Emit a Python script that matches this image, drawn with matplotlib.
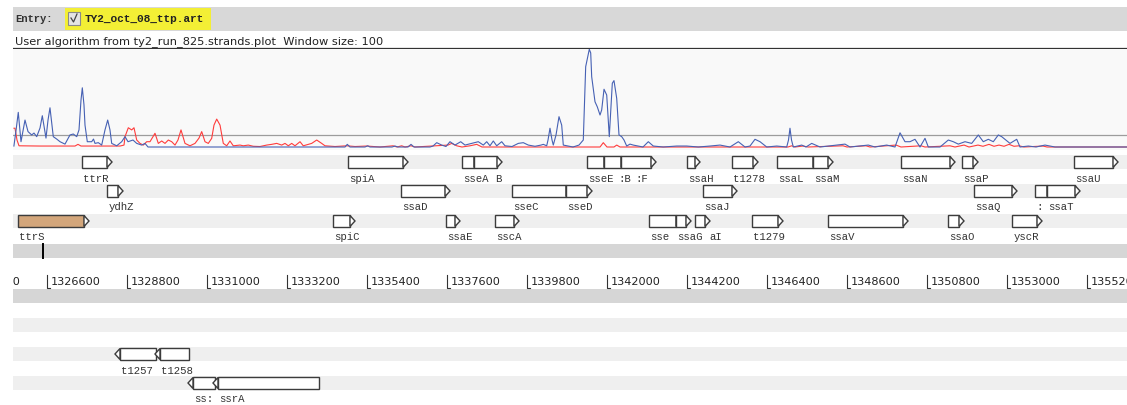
import matplotlib
matplotlib.use('Agg')
import matplotlib.pyplot as plt
from matplotlib.patches import Rectangle, Polygon

# visible genome window (bp) and scale ticks
view_start = 1325665
view_end = 1356300
tick_first = 1324400
tick_step = 2200
cursor_pos = 1326490

entry_name = "TY2_oct_08_ttp.art"
graph_title = "User algorithm from ty2_run_825.strands.plot  Window size: 100"
graph_max = 40.73
graph_cut = 4.96

# graph curves (position bp, value)
blue_pos = [1325690, 1325750, 1325810, 1325885, 1325995, 1326078, 1326179, 1326242, 1326317,
            1326408, 1326471, 1326572, 1326628, 1326682, 1326738, 1326773, 1326867, 1326958,
            1327095, 1327232, 1327323, 1327417, 1327480, 1327535, 1327571, 1327617, 1327645,
            1327708, 1327829, 1327879, 1327920, 1328011, 1328104, 1328195, 1328269, 1328332,
            1328379, 1328517, 1328654, 1328745, 1328828, 1328965, 1329067, 1329204, 1329295,
            1329378, 1333558, 1334795, 1334858, 1334932, 1335345, 1335419, 1335482, 1336088,
            1336170, 1336252, 1336528, 1336610, 1336692, 1337132, 1337215, 1337317, 1337454,
            1337572, 1337682, 1337820, 1337977, 1338095, 1338279, 1338461, 1338598, 1338692,
            1338782, 1338873, 1338967, 1339104, 1339195, 1339388, 1339561, 1339698, 1339836,
            1340020, 1340185, 1340248, 1340342, 1340378, 1340432, 1340488, 1340523, 1340598,
            1340680, 1340754, 1340798, 1340928, 1341065, 1341230, 1341348, 1341414, 1341513,
            1341552, 1341579, 1341670, 1341733, 1341808, 1341854, 1341918, 1341992, 1342063,
            1342146, 1342192, 1342267, 1342330, 1342404, 1342468, 1342542, 1342632, 1342723,
            1342861, 1342990, 1343136, 1343273, 1343548, 1343917, 1344192, 1344511, 1344832,
            1345108, 1345382, 1345611, 1345795, 1345932, 1346070, 1346208, 1346392, 1346667,
            1346942, 1346991, 1347032, 1347074, 1347123, 1347354, 1347472, 1347629, 1347858,
            1348545, 1348682, 1349186, 1349370, 1349692, 1349920, 1350058, 1350195, 1350332,
            1350470, 1350608, 1350745, 1350836, 1351158, 1351386, 1351523, 1351661, 1351845,
            1352029, 1352211, 1352348, 1352486, 1352623, 1352761, 1352854, 1352945, 1353082,
            1353267, 1353358, 1353586, 1353798, 1354045, 1354320, 1356300]
blue_val = [0.4, 7.1, 14.4, 2.2, 11.2, 6.4, 5.0, 5.8, 4.3,
            7.9, 13.0, 3.7, 11.2, 16.3, 9.1, 4.3, 3.3, 2.2,
            1.2, 5.0, 5.4, 4.3, 7.1, 19.5, 24.6, 17.5, 9.1,
            2.2, 2.2, 3.3, 1.5, 1.8, 0.8, 7.1, 11.2, 7.1,
            1.5, 0.5, 2.2, 4.3, 2.2, 2.9, 1.5, 0.8, 1.5,
            0.0, 0.0, 0.0, 1.1, 0.0, 0.0, 0.5, 0.0, 0.0,
            0.4, 0.0, 0.0, 1.1, 0.0, 0.0, 0.4, 1.8, 0.8,
            0.2, 2.2, 0.8, 2.2, 0.8, 1.5, 2.2, 0.8, 2.2,
            0.5, 2.5, 0.5, 2.2, 0.5, 0.2, 1.5, 1.8, 0.8,
            0.3, 0.8, 1.1, 0.5, 2.9, 7.8, 2.9, 0.8, 5.0,
            12.6, 9.1, 0.8, 0.4, 0.0, 0.8, 2.9, 33.4, 40.6,
            39.1, 29.2, 18.8, 16.7, 13.3, 15.4, 24.0, 21.6, 4.3,
            26.5, 27.6, 20.2, 5.0, 4.3, 2.9, 0.4, 1.2, 0.8,
            0.4, 0.0, 2.2, 0.4, 0.0, 0.4, 0.4, 0.0, 0.4,
            0.8, 0.0, 2.2, 0.0, 0.4, 3.2, 2.2, 0.0, 0.4,
            0.0, 2.9, 7.8, 2.9, 0.0, 0.8, 0.0, 1.5, 0.0,
            1.2, 0.0, 0.8, 0.0, 0.8, 0.0, 5.9, 2.2, 2.2,
            3.2, 0.0, 3.6, 0.0, 0.0, 2.9, 2.2, 1.2, 2.2,
            1.5, 5.0, 2.2, 3.2, 2.2, 5.0, 4.3, 3.2, 1.5,
            3.2, 0.0, 0.4, 0.0, 0.8, 0.0, 0.0]

red_pos = [1325692, 1325720, 1325775, 1325830, 1326408, 1327370, 1327452, 1327535, 1328608,
           1328718, 1328745, 1328836, 1328929, 1328992, 1329067, 1329158, 1329248, 1329342,
           1329432, 1329570, 1329661, 1329754, 1329845, 1329936, 1330029, 1330120, 1330202,
           1330285, 1330395, 1330532, 1330670, 1330780, 1330854, 1330945, 1331036, 1331129,
           1331192, 1331267, 1331358, 1331448, 1331542, 1331632, 1331723, 1331908, 1331998,
           1332136, 1332273, 1332458, 1332642, 1332779, 1332917, 1333054, 1333145, 1333236,
           1333329, 1333420, 1333558, 1333648, 1333879, 1334017, 1334154, 1334245, 1334520,
           1334842, 1335070, 1335392, 1335758, 1336115, 1336225, 1336354, 1336445, 1336610,
           1336720, 1337628, 1337729, 1337867, 1338012, 1338232, 1338417, 1338562, 1341808,
           1341898, 1342000, 1342192, 1342267, 1342358, 1346978, 1347079, 1347170, 1347390,
           1347528, 1348490, 1348600, 1349122, 1349232, 1349948, 1350085, 1350635, 1350745,
           1351432, 1351570, 1351818, 1351955, 1352202, 1352340, 1352505, 1352642, 1352780,
           1352918, 1353055, 1353192, 1353330, 1353468, 1353990, 1354100, 1356300]
red_val = [7.8, 7.8, 2.9, 0.5, 0.4, 0.4, 1.1, 0.4, 0.4,
           0.8, 4.3, 8.0, 7.1, 8.0, 2.9, 1.5, 0.8, 2.2,
           2.2, 5.7, 1.5, 2.5, 1.5, 2.9, 2.2, 0.8, 2.9,
           7.1, 1.5, 0.5, 1.5, 3.7, 6.4, 2.2, 1.5, 3.6,
           9.1, 11.6, 9.1, 1.5, 0.5, 2.5, 0.5, 0.8, 0.5,
           0.8, 0.3, 0.2, 0.8, 1.1, 1.5, 0.8, 1.5, 0.5,
           1.5, 0.5, 2.2, 0.5, 1.5, 2.9, 1.5, 0.5, 0.2,
           0.5, 0.2, 0.4, 0.0, 0.5, 0.0, 0.5, 0.0, 0.5,
           0.0, 0.8, 1.5, 0.5, 0.0, 0.5, 1.1, 0.0, 0.0,
           1.8, 0.0, 0.0, 0.8, 0.0, 0.0, 0.5, 0.0, 0.4,
           0.0, 0.5, 0.0, 0.5, 0.0, 0.8, 0.0, 0.5, 0.0,
           0.5, 0.0, 0.8, 0.0, 0.8, 0.3, 1.1, 0.3, 0.8,
           0.3, 1.1, 0.3, 0.5, 0.0, 0.4, 0.0, 0.0]

# features: label as shown on screen (leading spaces = hidden characters), start, end, track
gene_labels = ["ttrR", "spiA", "sseA", "   B", "sseE", "  :B", "  :F", "ssaH", "t1278",
               "ssaL", "ssaM", "ssaN", "ssaP", "ssaU",
               "ydhZ", "ssaD", "sseC", "sseD", "ssaJ", "ssaQ", ":", "ssaT",
               "ttrS", "spiC", "ssaE", "sscA", "sse", "ssaG", "  aI", "t1279", "ssaV",
               "ssaO", "yscR",
               "t1257", "t1258", "ss:", "ssrA"]
gene_start = [1327562, 1334877, 1338012, 1338342, 1341450, 1341917, 1342385, 1344200, 1345437,
              1346675, 1347665, 1350085, 1351762, 1354842,
              1328250, 1336335, 1339387, 1340872, 1344640, 1352092, 1353770, 1354100,
              1325802, 1334465, 1337572, 1338920, 1343155, 1343897, 1344420, 1345987, 1348077,
              1351377, 1353137,
              1328607, 1329707, 1330615, 1331302]
gene_end = [1328250, 1336390, 1338342, 1338975, 1341917, 1342385, 1343210, 1344420, 1346015,
            1347665, 1348077, 1351432, 1352065, 1355915,
            1328552, 1337545, 1340872, 1341450, 1345437, 1353137, 1354100, 1354870,
            1327617, 1334932, 1337820, 1339442, 1343897, 1344172, 1344695, 1346702, 1350140,
            1351680, 1353825,
            1329597, 1330505, 1331220, 1334080]
gene_track = ["f1"] * 14 + ["f2"] * 8 + ["f3"] * 11 + ["r2", "r2", "r3", "r3"]
gene_colour = {"ttrS": "#d3a67b"}

# ---- layout (pixels) ----
W, H = 1127, 405
LEFT = 13
band_top = {"f1": 155, "f2": 184, "f3": 214, "r1": 318, "r2": 347, "r3": 376}
BAND_H = 14
MONO = "Liberation Mono"
SANS = "DejaVu Sans"
EDGE = "#3c3c3c"
CHAR_W = 6.4  # mono label advance in px

fig = plt.figure(figsize=(W / 100, H / 100), dpi=100)
ax = fig.add_axes([LEFT / W, 0, (W - LEFT) / W, 1])
ax.set_xlim(view_start, view_end)
ax.set_ylim(H, 0)
ax.axis("off")
bp_px = (view_end - view_start) / (W - LEFT)


def px(x):
    return view_start + (x - LEFT) * bp_px


# entry bar
ax.axhspan(7, 31, color="#d8d8d8", lw=0)
ax.add_patch(Rectangle((px(65), 8), px(211) - px(65), 22, facecolor="#f3ef35", lw=0))
ax.add_patch(Rectangle((px(68), 12), px(80) - px(68), 13, facecolor="#e4e4e4",
                       edgecolor="#8a8a8a", lw=0.8))
ax.plot([px(71), px(73.5), px(77)], [18, 22, 14], color="#444444", lw=0.9)
ax.text(px(15), 19.5, "Entry:", family=MONO, weight="bold", fontsize=7.6,
        color="#333333", va="center")
ax.text(px(85), 19.5, entry_name, family=MONO, weight="bold", fontsize=8.0,
        color="#222222", va="center")

# graph title and top border
ax.text(px(15), 42, graph_title, family=SANS, fontsize=8.2, color="#222222", va="center")
ax.axhline(48, color="#333333", lw=0.9)

# feature bands
for t in band_top:
    ax.axhspan(band_top[t], band_top[t] + BAND_H, color="#efefef", lw=0)
ax.axhspan(244, 258, color="#d6d6d6", lw=0)
ax.axhspan(289, 303, color="#d6d6d6", lw=0)
ax.plot([cursor_pos, cursor_pos], [244, 258], color="black", lw=1.4)

# scale
tk = tick_first
while tk < view_end:
    ax.plot([tk, tk, tk + 3 * bp_px], [275, 288, 288], color="#333333", lw=0.8, clip_on=True)
    ax.text(tk + 4 * bp_px, 282, str(tk), family=SANS, fontsize=8.1, color="#222222",
            va="center", clip_on=True)
    tk += tick_step

# genes
arrow = 5 * bp_px
for i in range(len(gene_labels)):
    top = band_top[gene_track[i]]
    bot = top + BAND_H
    s, e = gene_start[i], gene_end[i]
    face = gene_colour.get(gene_labels[i], "white")
    z = 3 + i * 0.01
    ax.add_patch(Rectangle((s, top + 0.7), e - s, BAND_H - 1.4, facecolor=face,
                           edgecolor=EDGE, lw=1.0, zorder=z))
    mid = top + BAND_H / 2
    if gene_track[i].startswith("f"):
        tri = [(e, top + 1.5), (e + arrow, mid), (e, bot - 1.5)]
    else:
        tri = [(s, top + 1.5), (s - arrow, mid), (s, bot - 1.5)]
    ax.add_patch(Polygon(tri, closed=True, facecolor="white", edgecolor=EDGE, lw=1.0,
                         zorder=z + 0.001))
    lab = gene_labels[i]
    hidden = len(lab) - len(lab.lstrip())
    ax.text(s + (1.5 + hidden * CHAR_W) * bp_px, bot + 9.5, lab.lstrip(), family=MONO,
            fontsize=7.7, color="#333333", va="center")

# graph
k = graph_max / (147 - 49)
gx = fig.add_axes([LEFT / W, 1 - 150 / H, (W - LEFT) / W, (150 - 48.5) / H])
gx.set_facecolor("#f9f9f9")
gx.set_xlim(view_start, view_end)
gx.set_ylim(-(150 - 147) * k, (147 - 48.5) * k)
for sp in gx.spines.values():
    sp.set_visible(False)
gx.set_xticks([])
gx.set_yticks([])
gx.axhline(graph_cut, color="#9c9c9c", lw=0.9)
gx.plot(red_pos, red_val, color="#ff3c3c", lw=0.8)
gx.plot(blue_pos, blue_val, color="#4661b4", lw=0.8)

ax.text(px(1123), 57, "%.2f" % graph_max, family=SANS, fontsize=8, color="#333333",
        ha="right", va="center", zorder=10)
ax.text(px(1123), 133, "%.2f" % graph_cut, family=SANS, fontsize=8, color="#a8a8a8",
        ha="right", va="center", zorder=10)
ax.text(px(1124), 143, "0.0", family=SANS, fontsize=8, color="#ff3c3c",
        ha="right", va="center", zorder=10)
ax.text(px(1122), 143, "0.0", family=SANS, fontsize=8, color="#333333",
        ha="right", va="center", zorder=10)

fig.savefig("out.png", dpi=100, facecolor="white")
